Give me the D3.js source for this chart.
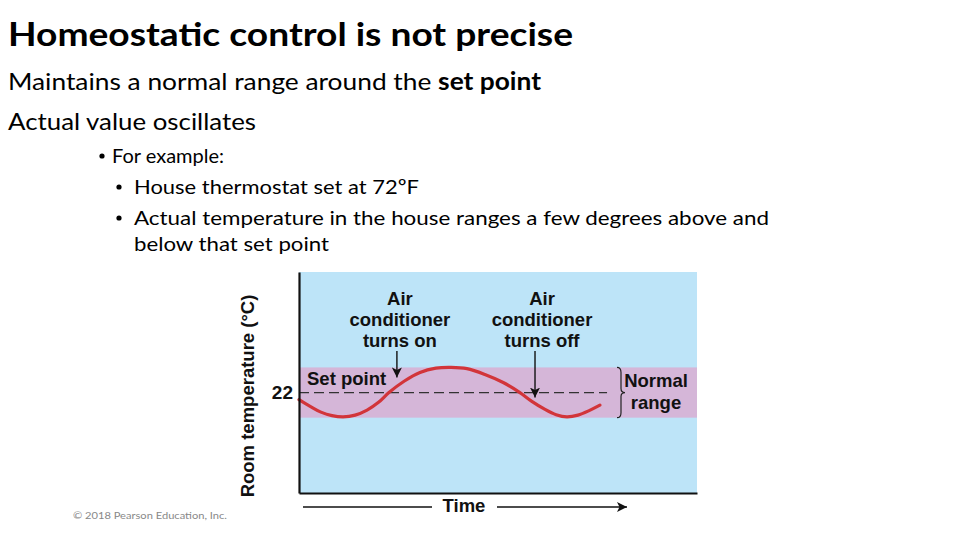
<!DOCTYPE html>
<html>
<head>
<meta charset="utf-8">
<script src="https://cdn.jsdelivr.net/npm/d3@7"></script>
<style>
  html, body { margin: 0; padding: 0; background: #ffffff; }
  svg { display: block; }
</style>
</head>
<body>
<svg id="chart" width="960" height="540"></svg>
<script>
// ---------- data ----------
const timePoints = [0, 2.8, 5.5, 8.3, 11.1, 14.1, 17.1, 19.9, 22.6, 26.4, 30.4, 34.4, 38.2, 42.2, 46.7, 51.3, 55.5, 58.5, 61.6, 64.6, 67.3, 70.1, 72.9, 75.6];
const roomTemps  = [21.72, 21.45, 21.22, 21.08, 21.03, 21.1, 21.3, 21.6, 22.0, 22.45, 22.8, 22.97, 23.0, 22.95, 22.72, 22.4, 22.0, 21.65, 21.35, 21.12, 21.03, 21.1, 21.28, 21.5];
const setPoint = 22;
const normalRange = [21, 23];
const yTicks = [22];
const yDomain = [18, 26.8];
const xDomain = [0, 100];
const annotationLabels = [["Air", "conditioner", "turns on"], ["Air", "conditioner", "turns off"]];
const annotationTime = [24.6, 59.3];
const annotationTip = [22.6, 21.8];

const titleText = "Homeostatic control is not precise";
const bodyLines = ["Maintains a normal range around the ", "set point"];
const line2 = "Actual value oscillates";
const bullet1 = "For example:";
const bullet2 = ["House thermostat set at 72ºF", "Actual temperature in the house ranges a few degrees above and", "below that set point"];
const credit = "© 2018 Pearson Education, Inc.";

// ---------- drawing ----------
const svg = d3.select("#chart");
const slideFont = "Lato, 'Open Sans', sans-serif";
const figFont = "'Liberation Sans', Arial, sans-serif";
const figSize = 18.5;

// slide text
svg.append("text").attr("x", 8).attr("y", 46)
  .attr("font-family", slideFont).attr("font-weight", 700).attr("font-size", 32)
  .attr("textLength", 565).attr("lengthAdjust", "spacingAndGlyphs")
  .attr("fill", "#000").text(titleText);

const l1 = svg.append("text").attr("x", 8).attr("y", 90)
  .attr("font-family", slideFont).attr("font-size", 24).attr("fill", "#000")
  .attr("textLength", 533).attr("lengthAdjust", "spacingAndGlyphs");
l1.append("tspan").text(bodyLines[0]);
l1.append("tspan").attr("font-weight", 700).text(bodyLines[1]);

svg.append("text").attr("x", 8).attr("y", 130)
  .attr("font-family", slideFont).attr("font-size", 24).attr("fill", "#000")
  .attr("textLength", 248).attr("lengthAdjust", "spacingAndGlyphs").text(line2);

function bulletDot(cx, cy) {
  svg.append("circle").attr("cx", cx).attr("cy", cy).attr("r", 2.6).attr("fill", "#000");
}
bulletDot(102, 156);
svg.append("text").attr("x", 112).attr("y", 163)
  .attr("font-family", slideFont).attr("font-size", 20).attr("fill", "#000")
  .attr("textLength", 112).attr("lengthAdjust", "spacingAndGlyphs").text(bullet1);

bulletDot(119, 187);
svg.append("text").attr("x", 134).attr("y", 194)
  .attr("font-family", slideFont).attr("font-size", 20).attr("fill", "#000")
  .attr("textLength", 285).attr("lengthAdjust", "spacingAndGlyphs").text(bullet2[0]);
bulletDot(119, 218);
svg.append("text").attr("x", 134).attr("y", 225)
  .attr("font-family", slideFont).attr("font-size", 20).attr("fill", "#000")
  .attr("textLength", 635).attr("lengthAdjust", "spacingAndGlyphs").text(bullet2[1]);
svg.append("text").attr("x", 134).attr("y", 251)
  .attr("font-family", slideFont).attr("font-size", 20).attr("fill", "#000")
  .attr("textLength", 195).attr("lengthAdjust", "spacingAndGlyphs").text(bullet2[2]);

svg.append("text").attr("x", 73).attr("y", 519)
  .attr("font-family", slideFont).attr("font-size", 10).attr("fill", "#888")
  .attr("textLength", 154).attr("lengthAdjust", "spacingAndGlyphs").text(credit);

// ---------- figure ----------
const plot = { left: 299, right: 697, top: 272, bottom: 493 };
const x = d3.scaleLinear().domain(xDomain).range([plot.left, plot.right]);
const y = d3.scaleLinear().domain(yDomain).range([plot.bottom, plot.top]);

svg.append("rect").attr("x", plot.left).attr("y", plot.top)
  .attr("width", plot.right - plot.left).attr("height", plot.bottom - plot.top)
  .attr("fill", "#bde4f8");

svg.append("rect").attr("x", plot.left).attr("y", y(normalRange[1]))
  .attr("width", plot.right - plot.left).attr("height", y(normalRange[0]) - y(normalRange[1]))
  .attr("fill", "#d5b6d8");

// set point dashed line
svg.append("line").attr("x1", x(0)).attr("x2", x(77.4))
  .attr("y1", y(setPoint)).attr("y2", y(setPoint))
  .attr("stroke", "#333").attr("stroke-width", 1.2).attr("stroke-dasharray", "10,5");

// curve
const pts = timePoints.map((t, i) => [t, roomTemps[i]]);
svg.append("path").datum(pts)
  .attr("d", d3.line().x(d => x(d[0])).y(d => y(d[1])).curve(d3.curveCatmullRom))
  .attr("fill", "none").attr("stroke", "#d2353a").attr("stroke-width", 3.2)
  .attr("stroke-linecap", "round");

// axes
const yAxis = d3.axisLeft(y).tickValues(yTicks).tickSize(0).tickPadding(6).tickFormat(d3.format("d"));
const gy = svg.append("g").attr("transform", `translate(${plot.left},0)`).call(yAxis);
gy.select(".domain").attr("stroke", "#111").attr("stroke-width", 2.2);
gy.selectAll("text").attr("font-family", figFont).attr("font-weight", 700).attr("font-size", 19).attr("fill", "#111");

const xAxis = d3.axisBottom(x).tickValues([]).tickSize(0);
const gx = svg.append("g").attr("transform", `translate(0,${plot.bottom})`).call(xAxis);
gx.select(".domain").attr("stroke", "#111").attr("stroke-width", 2.2);

// labels
svg.append("text").attr("transform", `translate(254,396) rotate(-90)`)
  .attr("text-anchor", "middle").attr("font-family", figFont).attr("font-weight", 700)
  .attr("font-size", figSize).attr("fill", "#111").text("Room temperature (°C)");

svg.append("text").attr("x", 307).attr("y", 385)
  .attr("font-family", figFont).attr("font-weight", 700).attr("font-size", figSize).attr("fill", "#111").text("Set point");

// arrowhead marker
const defs = svg.append("defs");
defs.append("marker").attr("id", "ah").attr("viewBox", "0 0 10 10").attr("refX", 10).attr("refY", 5)
  .attr("markerWidth", 10).attr("markerHeight", 10).attr("markerUnits", "userSpaceOnUse")
  .attr("orient", "auto")
  .append("path").attr("d", "M0,0 L10,5 L0,10 L2.5,5 Z").attr("fill", "#111");
defs.append("marker").attr("id", "ah2").attr("viewBox", "0 0 10 10").attr("refX", 10).attr("refY", 5)
  .attr("markerWidth", 12).attr("markerHeight", 10).attr("markerUnits", "userSpaceOnUse")
  .attr("orient", "auto")
  .append("path").attr("d", "M0,0 L10,5 L0,10 L2.5,5 Z").attr("fill", "#111");

// annotations
annotationLabels.forEach((lines, i) => {
  const cx = x(annotationTime[i]) + 2;
  const t = svg.append("text").attr("text-anchor", "middle").attr("font-family", figFont)
    .attr("font-weight", 700).attr("font-size", figSize).attr("fill", "#111");
  lines.forEach((s, j) => t.append("tspan").attr("x", cx + (i === 1 ? 5 : 1)).attr("y", 305 + j * 21).text(s));
  svg.append("line").attr("x1", x(annotationTime[i])).attr("x2", x(annotationTime[i]))
    .attr("y1", 351).attr("y2", y(annotationTip[i]))
    .attr("stroke", "#111").attr("stroke-width", 1.4).attr("marker-end", "url(#ah)");
});

// brace for normal range
const bx = 617, yt = y(normalRange[1]), yb = y(normalRange[0]), ym = (yt + yb) / 2;
svg.append("path")
  .attr("d", `M${bx},${yt} Q${bx + 4},${yt} ${bx + 4},${yt + 5} L${bx + 4},${ym - 4} Q${bx + 4},${ym} ${bx + 8},${ym} Q${bx + 4},${ym} ${bx + 4},${ym + 4} L${bx + 4},${yb - 5} Q${bx + 4},${yb} ${bx},${yb}`)
  .attr("fill", "none").attr("stroke", "#222").attr("stroke-width", 1.2);

const nr = svg.append("text").attr("text-anchor", "middle").attr("font-family", figFont)
  .attr("font-weight", 700).attr("font-size", figSize).attr("fill", "#111");
nr.append("tspan").attr("x", 656).attr("y", 387).text("Normal");
nr.append("tspan").attr("x", 656).attr("y", 409).text("range");

// time label with arrow
svg.append("text").attr("x", 464).attr("y", 512).attr("text-anchor", "middle")
  .attr("font-family", figFont).attr("font-weight", 700).attr("font-size", figSize).attr("fill", "#111").text("Time");
svg.append("line").attr("x1", 303).attr("x2", 432).attr("y1", 507).attr("y2", 507)
  .attr("stroke", "#111").attr("stroke-width", 1.3);
svg.append("line").attr("x1", 497).attr("x2", 627).attr("y1", 507).attr("y2", 507)
  .attr("stroke", "#111").attr("stroke-width", 1.3).attr("marker-end", "url(#ah2)");
</script>
</body>
</html>
